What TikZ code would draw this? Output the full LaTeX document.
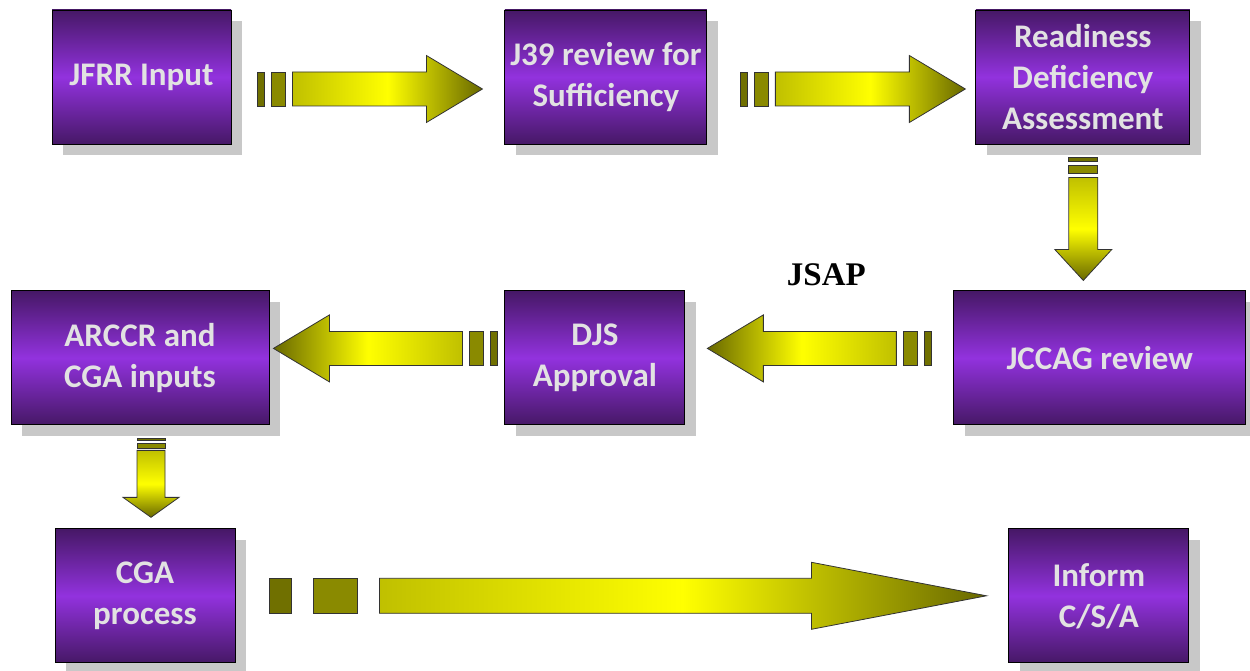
\documentclass[tikz,border=0pt]{standalone}
\usepackage{fontspec}
\setmainfont{Carlito}
\newfontfamily\labelfont{Liberation Serif}
\usepackage{tikz}
\usetikzlibrary{positioning, calc, shadows}

\definecolor{stagedark}{RGB}{70,24,102}
\definecolor{stagemid}{RGB}{146,50,222}
\definecolor{stagetext}{RGB}{226,226,226}
\definecolor{shadowgrey}{RGB}{200,200,200}
\definecolor{flowlight}{RGB}{192,192,0}
\definecolor{flowmid}{RGB}{255,255,0}
\definecolor{flowdark}{RGB}{104,104,0}
\definecolor{barone}{RGB}{112,112,0}
\definecolor{bartwo}{RGB}{138,138,0}

\tikzset{
    stage/.style={rectangle, draw=black, line width=0.9pt, minimum height=134pt, inner sep=0pt, align=center,
        top color=stagedark, bottom color=stagedark, middle color=stagemid,
        text=stagetext, font=\fontsize{33}{41}\selectfont\bfseries,
        drop shadow={shadow xshift=11pt, shadow yshift=-11pt, fill=shadowgrey, opacity=1}},
    jsaplabel/.style={font=\labelfont\fontsize{33}{40}\selectfont\bfseries, text=black},
    flowbar/.style={draw=black!80, line width=0.8pt},
    flowbody/.style={draw=black!80, line width=0.8pt},
    to right/.style={left color=flowlight, right color=flowdark, middle color=flowmid},
    to left/.style={left color=flowdark, right color=flowlight, middle color=flowmid},
    to down/.style={top color=flowlight, bottom color=flowdark, middle color=flowmid},
    short flow/.code={\def\flowunit{7}\def\flowshaft{17}\def\flowhead{33.5}\def\flowheadlen{56}},
    long flow/.code={\def\flowunit{22}\def\flowshaft{17.5}\def\flowhead{33.5}\def\flowheadlen{175}},
    down flow/.code={\def\flowunit{4}\def\flowshaft{14.5}\def\flowhead{28.5}\def\flowheadlen{31}},
    small flow/.code={\def\flowunit{2.4}\def\flowshaft{14}\def\flowhead{28}\def\flowheadlen{20}},
}

% #1 size, #2 tail, #3 angle, #4 length tail to tip, #5 shading
\newcommand{\flowarrow}[5]{%
    \begin{scope}[shift={#2}, rotate=#3, #1]
        \draw [flowbar, fill=barone] (0,-\flowshaft) rectangle (\flowunit,\flowshaft);
        \draw [flowbar, fill=bartwo] (2*\flowunit,-\flowshaft) rectangle (4*\flowunit,\flowshaft);
        \draw [flowbody, #5] (5*\flowunit,-\flowshaft) -- (#4-\flowheadlen,-\flowshaft) -- (#4-\flowheadlen,-\flowhead)
            -- (#4,0) -- (#4-\flowheadlen,\flowhead) -- (#4-\flowheadlen,\flowshaft) -- (5*\flowunit,\flowshaft) -- cycle;
    \end{scope}}

\begin{document}
\begin{tikzpicture}[x=1pt, y=-1pt]
    \useasboundingbox (0,0) rectangle (1250,671);

    \node [stage, minimum width=179pt] (jfrr) at (141.5,77) {JFRR Input};
    \node [stage, minimum width=202pt, right=273pt of jfrr] (j39) {J39 review for\\Sufficiency};
    \node [stage, minimum width=214pt, right=268pt of j39] (ready) {Readiness\\Deficiency\\Assessment};
    \node [stage, minimum width=292pt, below=146pt of ready, xshift=17pt] (jccag) {JCCAG review};
    \node [stage, minimum width=180pt, left=268pt of jccag] (djs) {DJS\\Approval};
    \node [stage, minimum width=258pt, left=235pt of djs] (arccr) {ARCCR and\\CGA inputs};
    \node [stage, minimum width=180pt, below=103pt of arccr, xshift=5pt] (cga) {CGA\\process};
    \node [stage, minimum width=180pt, right=773pt of cga] (inform) {Inform\\C/S/A};

    \node [jsaplabel] (jsap) at ($(jccag.north west)+(-127,-16)$) {JSAP};

    \flowarrow{short flow}{($(jfrr.east)+(26,12)$)}{0}{225}{to right}
    \flowarrow{short flow}{($(j39.east)+(33,12)$)}{0}{225}{to right}
    \flowarrow{down flow}{($(ready.south)+(0.5,13)$)}{-90}{123}{to down}
    \flowarrow{short flow}{($(jccag.west)+(-22,-9.5)$)}{180}{224}{to left}
    \flowarrow{short flow}{($(djs.west)+(-7,-9.5)$)}{180}{224}{to left}
    \flowarrow{small flow}{($(arccr.south)+(11,13)$)}{-90}{79}{to down}
    \flowarrow{long flow}{($(cga.east)+(34,0)$)}{0}{717}{to right}
\end{tikzpicture}
\end{document}
